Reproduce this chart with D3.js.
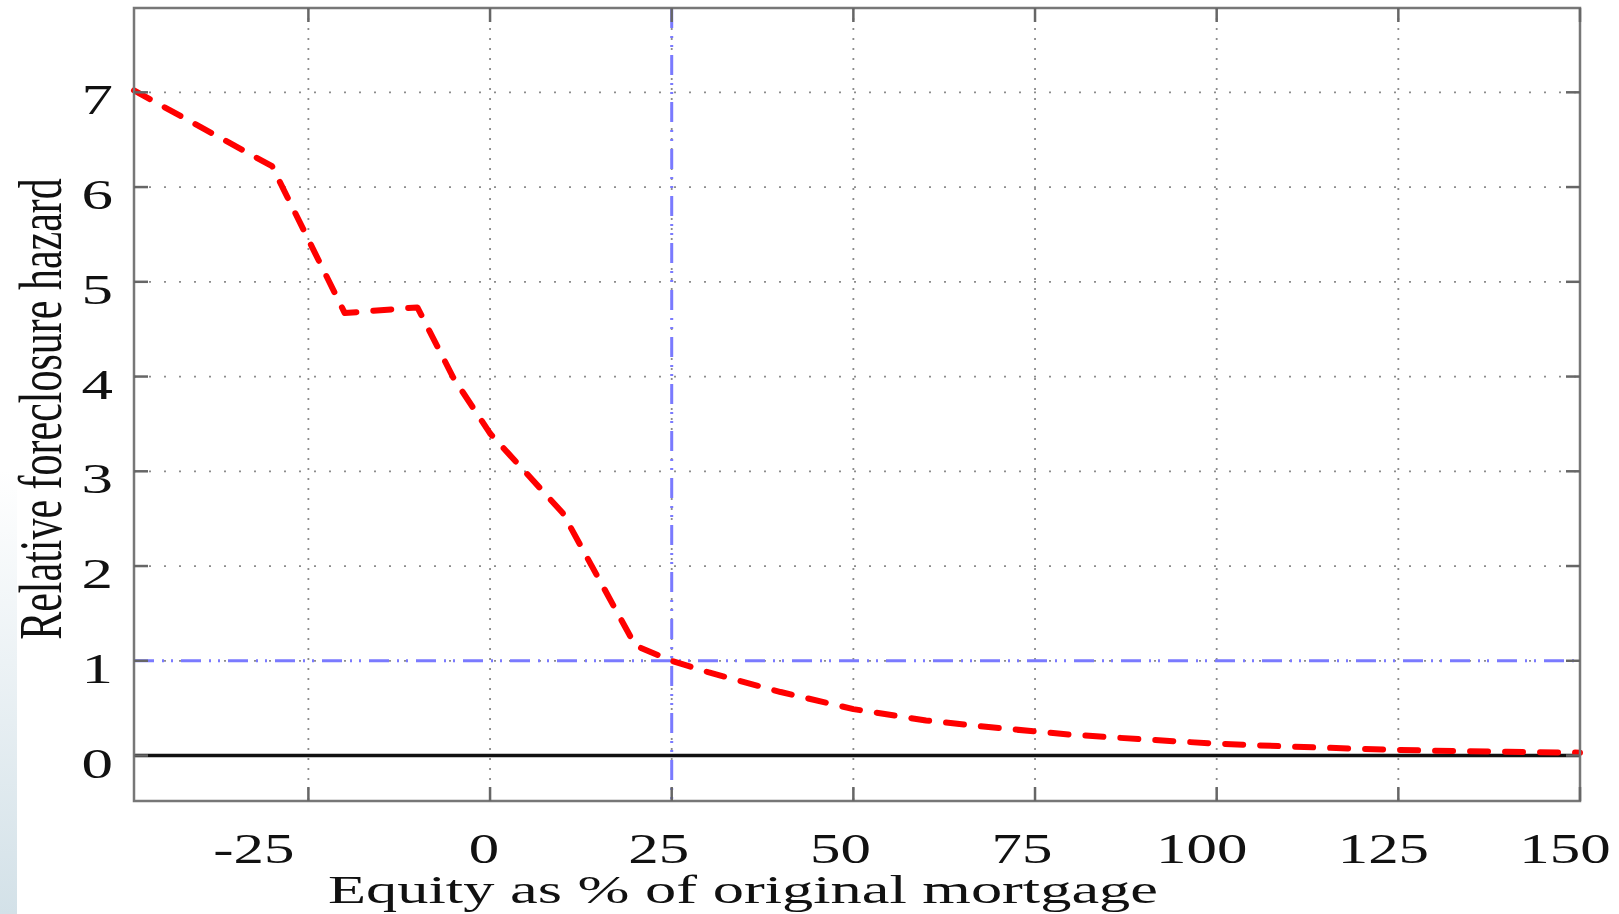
<!DOCTYPE html>
<html>
<head>
<meta charset="utf-8">
<script src="https://cdn.jsdelivr.net/npm/d3@7"></script>
<style>
  body { margin: 0; background: #fff; }
  text { font-family: 'Liberation Serif', 'Times New Roman', serif; fill: #111; }
</style>
</head>
<body>
<script>
'use strict';

// data
var equity  = [-49, -30, -20, -10, -5, 0, 10, 20, 25, 30, 40, 50, 60, 70, 80, 90, 100, 110, 120, 130, 140, 150];
var hazard  = [7.02, 6.22, 4.67, 4.73, 3.98, 3.40, 2.56, 1.16, 1.0, 0.88, 0.67, 0.49, 0.37, 0.29, 0.22, 0.17, 0.125, 0.095, 0.07, 0.05, 0.04, 0.03];
var xTicks  = [-25, 0, 25, 50, 75, 100, 125, 150];
var yTicks  = [0, 1, 2, 3, 4, 5, 6, 7];
var refX    = 25;
var refY    = 1;

var width  = 1619,
    height = 914;

var plotLeft = 134, plotRight = 1580, plotTop = 8, plotBottom = 801;
var stretch = 1.45; // the text in the picture is wide

var x = d3.scaleLinear().domain([-49, 150]).range([plotLeft, plotRight]);
var y = d3.scaleLinear().domain([-0.48, 7.89]).range([plotBottom, plotTop]);

var svg = d3.select('body').append('svg')
    .attr('width', width)
    .attr('height', height);

// faint strip at the left edge
var grad = svg.append('defs').append('linearGradient')
    .attr('id', 'strip')
    .attr('x1', 0).attr('y1', 0).attr('x2', 0).attr('y2', 1);
grad.append('stop').attr('offset', 0).attr('stop-color', '#d3e1e8').attr('stop-opacity', 0);
grad.append('stop').attr('offset', 1).attr('stop-color', '#d3e1e8').attr('stop-opacity', 1);
svg.append('rect')
    .attr('x', 0).attr('y', 470)
    .attr('width', 17).attr('height', height - 470)
    .attr('fill', 'url(#strip)');

// grid
svg.append('g').selectAll('line')
    .data(yTicks)
  .enter().append('line')
    .attr('x1', plotLeft).attr('x2', plotRight)
    .attr('y1', function(d) { return y(d); })
    .attr('y2', function(d) { return y(d); })
    .attr('stroke', '#8c8c8c')
    .attr('stroke-width', 1.8)
    .attr('stroke-dasharray', '2,13');

svg.append('g').selectAll('line')
    .data(xTicks)
  .enter().append('line')
    .attr('x1', function(d) { return x(d); })
    .attr('x2', function(d) { return x(d); })
    .attr('y1', plotTop).attr('y2', plotBottom)
    .attr('stroke', '#8c8c8c')
    .attr('stroke-width', 1.8)
    .attr('stroke-dasharray', '2,8');

// reference lines
svg.append('line')
    .attr('x1', plotLeft).attr('x2', plotRight)
    .attr('y1', y(refY)).attr('y2', y(refY))
    .attr('stroke', '#7a7aff')
    .attr('stroke-width', 3)
    .attr('stroke-dasharray', '20,8,2,7,2,8');

svg.append('line')
    .attr('x1', x(refX)).attr('x2', x(refX))
    .attr('y1', plotTop).attr('y2', plotBottom)
    .attr('stroke', '#7a7aff')
    .attr('stroke-width', 3)
    .attr('stroke-dasharray', '20,8,2,7,2,8');

// zero line
svg.append('line')
    .attr('x1', plotLeft).attr('x2', plotRight)
    .attr('y1', y(0)).attr('y2', y(0))
    .attr('stroke', '#111')
    .attr('stroke-width', 3.5);

// the curve
var line = d3.line()
    .x(function(d, i) { return x(equity[i]); })
    .y(function(d) { return y(d); });

svg.append('path')
    .attr('d', line(hazard))
    .attr('fill', 'none')
    .attr('stroke', '#ff0000')
    .attr('stroke-width', 6)
    .attr('stroke-linecap', 'round')
    .attr('stroke-linejoin', 'round')
    .attr('stroke-dasharray', '18,17');

// frame and inner ticks
svg.append('rect')
    .attr('x', plotLeft).attr('y', plotTop)
    .attr('width', plotRight - plotLeft).attr('height', plotBottom - plotTop)
    .attr('fill', 'none')
    .attr('stroke', '#777')
    .attr('stroke-width', 2.5);

var tick = 14;
var ticks = svg.append('g').attr('stroke', '#666').attr('stroke-width', 2.5);
xTicks.forEach(function(d) {
  ticks.append('line').attr('x1', x(d)).attr('x2', x(d)).attr('y1', plotBottom).attr('y2', plotBottom - tick);
  ticks.append('line').attr('x1', x(d)).attr('x2', x(d)).attr('y1', plotTop).attr('y2', plotTop + tick);
});
yTicks.forEach(function(d) {
  ticks.append('line').attr('x1', plotLeft).attr('x2', plotLeft + tick).attr('y1', y(d)).attr('y2', y(d));
  ticks.append('line').attr('x1', plotRight).attr('x2', plotRight - tick).attr('y1', y(d)).attr('y2', y(d));
});

// tick labels
svg.append('g').selectAll('text')
    .data(yTicks)
  .enter().append('text')
    .attr('transform', function(d) {
      return 'translate(113,' + (y(d) + 22) + ') scale(' + 1.5 + ',1)';
    })
    .attr('text-anchor', 'end')
    .attr('font-size', 42)
    .text(function(d) { return d; });

// labels sit a little left of their ticks, more so for wider labels
var labelShift = {1: -6, 2: -13, 3: -15};

svg.append('g').selectAll('text')
    .data(xTicks)
  .enter().append('text')
    .attr('transform', function(d) {
      var px = d < 0 ? x(d) - 14 : x(d) + labelShift[String(d).length];
      return 'translate(' + px + ',863) scale(' + stretch + ',1)';
    })
    .attr('text-anchor', function(d) { return d < 0 ? 'end' : 'middle'; })
    .attr('font-size', 42)
    .text(function(d) { return d; });

// axis titles
svg.append('text')
    .attr('transform', 'translate(743,903) scale(1.56,1)')
    .attr('text-anchor', 'middle')
    .attr('font-size', 40)
    .text('Equity as % of original mortgage');

svg.append('text')
    .attr('transform', 'translate(61,409) scale(' + stretch + ',1) rotate(-90)')
    .attr('text-anchor', 'middle')
    .attr('font-size', 42)
    .text('Relative foreclosure hazard');
</script>
</body>
</html>
